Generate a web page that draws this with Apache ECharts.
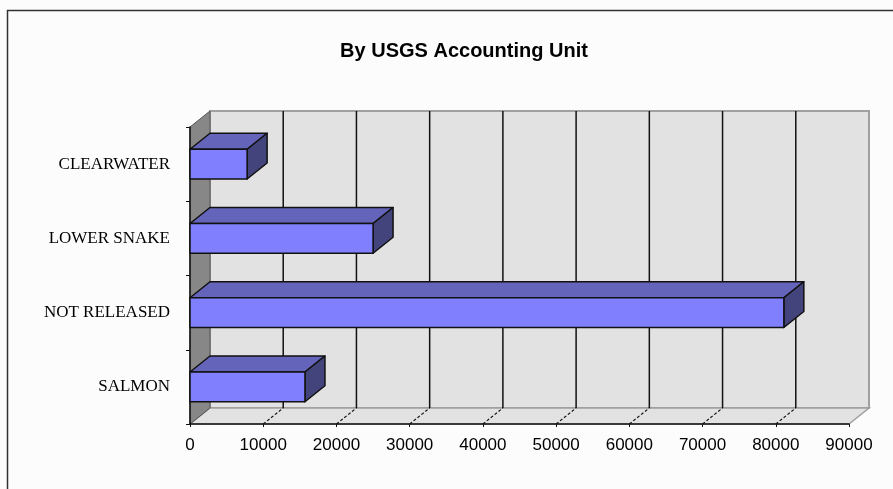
<!DOCTYPE html>
<html>
<head>
<meta charset="utf-8">
<script src="https://cdn.jsdelivr.net/npm/echarts@6/dist/echarts.min.js"></script>
<style>
html,body{margin:0;padding:0;background:#fcfcfc;}
#main{width:893px;height:489px;}
</style>
</head>
<body>
<div id="main"></div>
<script>
// ---- data ----
const titleText = 'By USGS Accounting Unit';
const categories = ['CLEARWATER', 'LOWER SNAKE', 'NOT RELEASED', 'SALMON'];
const values = [7800, 25000, 81100, 15700];
const xTicks = [0, 10000, 20000, 30000, 40000, 50000, 60000, 70000, 80000, 90000];

// ---- 3D depth (style) ----
const DX = 20, DY = -16;

const chart = echarts.init(document.getElementById('main'), null, {renderer: 'canvas'});

function wallsRender(params, api) {
  const cs = params.coordSys;
  const xMin = xTicks[0], xMax = xTicks[xTicks.length - 1];
  const x0 = api.coord([xMin, 0])[0];
  const x1 = api.coord([xMax, 0])[0];
  const yTop = cs.y, yBot = cs.y + cs.height;
  const children = [];
  // back wall
  children.push({type: 'polygon', shape: {points: [[x0 + DX, yTop + DY], [x1 + DX, yTop + DY], [x1 + DX, yBot + DY], [x0 + DX, yBot + DY]]},
    style: {fill: '#e2e2e2', stroke: '#a0a0a0', lineWidth: 2}});
  // floor
  children.push({type: 'polygon', shape: {points: [[x0, yBot], [x1, yBot], [x1 + DX, yBot + DY], [x0 + DX, yBot + DY]]},
    style: {fill: '#e2e2e2', stroke: '#a0a0a0', lineWidth: 1.5}});
  // left wall
  children.push({type: 'polygon', shape: {points: [[x0, yTop], [x0 + DX, yTop + DY], [x0 + DX, yBot + DY], [x0, yBot]]},
    style: {fill: '#878787', stroke: '#555', lineWidth: 1}});
  // gridlines
  for (let i = 1; i < xTicks.length - 1; i++) {
    const gx = api.coord([xTicks[i], 0])[0];
    children.push({type: 'line', shape: {x1: gx + DX, y1: yTop + DY, x2: gx + DX, y2: yBot + DY},
      style: {stroke: '#111', lineWidth: 1.5}});
  }
  for (let i = 1; i < xTicks.length - 1; i++) {
    const gx = api.coord([xTicks[i], 0])[0];
    children.push({type: 'line', shape: {x1: gx, y1: yBot, x2: gx + DX, y2: yBot + DY},
      style: {stroke: '#111', lineWidth: 1.2, lineDash: [3, 2]}});
  }
  return {type: 'group', children: children};
}

function barRender(params, api) {
  const v = api.value(0), c = api.value(1);
  const s = api.coord([0, c]);
  const e = api.coord([v, c]);
  const band = api.size([0, 1])[1];
  const h = band * 0.4;
  const xa = s[0], xb = e[0];
  const yt = e[1] - h / 2, yb = e[1] + h / 2;
  const st = {stroke: '#111', lineWidth: 1.5, lineJoin: 'round'};
  return {type: 'group', children: [
    {type: 'polygon', shape: {points: [[xa, yt], [xb, yt], [xb + DX, yt + DY], [xa + DX, yt + DY]]},
      style: Object.assign({fill: '#6464bb'}, st)},
    {type: 'polygon', shape: {points: [[xb, yt], [xb + DX, yt + DY], [xb + DX, yb + DY], [xb, yb]]},
      style: Object.assign({fill: '#44447c'}, st)},
    {type: 'rect', shape: {x: xa, y: yt, width: xb - xa, height: yb - yt},
      style: Object.assign({fill: '#8080ff'}, st)}
  ]};
}

chart.setOption({
  backgroundColor: '#fcfcfc',
  animation: false,
  title: {
    text: titleText, left: 459, top: 36, textAlign: 'center',
    textStyle: {fontFamily: "'Liberation Sans', Arial, sans-serif", fontWeight: 'bold', fontSize: 20, color: '#000'}
  },
  graphic: [{
    type: 'rect', shape: {x: 7.5, y: 10.5, width: 900, height: 500},
    style: {fill: 'none', stroke: '#333', lineWidth: 1.5}, silent: true
  }],
  grid: {left: 190, right: 44, top: 127, bottom: 65, containLabel: false},
  xAxis: {
    type: 'value', min: 0, max: 90000, interval: 10000,
    axisLine: {show: true, lineStyle: {color: '#111', width: 1.5}},
    axisTick: {show: true, length: 3, lineStyle: {color: '#111'}},
    splitLine: {show: false},
    axisLabel: {margin: 13, color: '#000', fontSize: 17,
      fontFamily: "'Liberation Sans', Arial, sans-serif",
      formatter: function (v) { return String(v); }}
  },
  yAxis: {
    type: 'category', data: categories, inverse: true,
    axisLine: {show: true, lineStyle: {color: '#111', width: 1.5}},
    axisTick: {show: true, length: 4, lineStyle: {color: '#111'}},
    splitLine: {show: false},
    axisLabel: {margin: 20, color: '#000', fontSize: 17,
      fontFamily: "'Liberation Serif', 'Times New Roman', serif"}
  },
  series: [
    {type: 'custom', renderItem: wallsRender, data: [[0, 0]], z: 0, silent: true,
      encode: {x: 0, y: 1}},
    {type: 'custom', renderItem: barRender, z: 2, silent: true,
      data: values.map(function (v, i) { return [v, i]; }),
      encode: {x: 0, y: 1}}
  ]
});
</script>
</body>
</html>
